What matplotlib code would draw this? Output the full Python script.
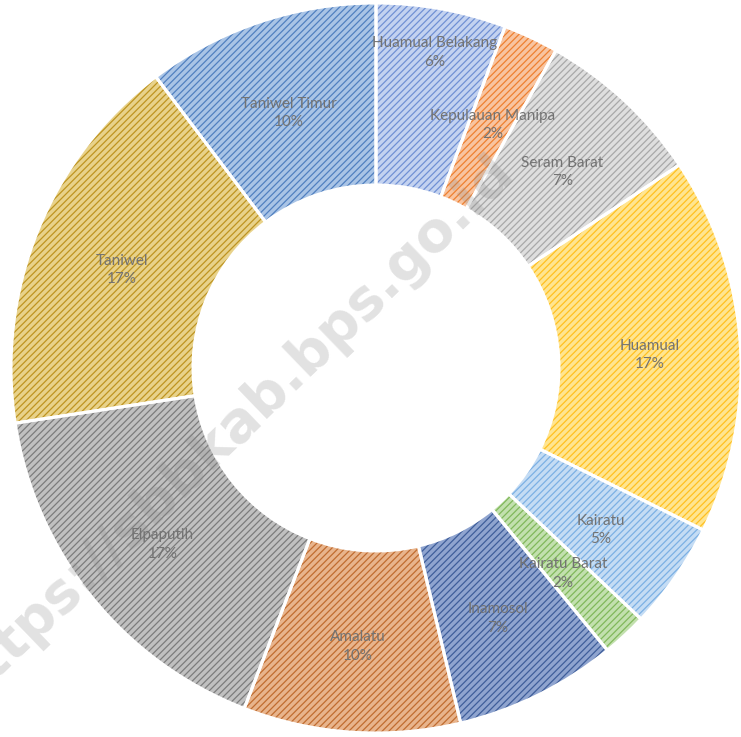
import matplotlib
matplotlib.use("Agg")
import matplotlib.pyplot as plt
import numpy as np

categories = ["Huamual Belakang", "Kepulauan Manipa", "Seram Barat", "Huamual",
              "Kairatu", "Kairatu Barat", "Inamosol", "Amalatu", "Elpaputih",
              "Taniwel", "Taniwel Timur"]
values = [5.75, 2.45, 7.4, 16.7, 4.75, 2.0, 7.2, 9.6, 16.7, 17.1, 10.3]
fg_colors = ["#7090d4", "#ee8030", "#a8a8a8", "#ffc020", "#7cb0e4", "#80b85a",
             "#3f5e9a", "#c06c30", "#7c7c7c", "#be9420", "#5080c0"]
bg_colors = ["#c3d2f0", "#f8c4a0", "#dedede", "#ffe590", "#c4dcf4", "#c2e0ae",
             "#8fa4cf", "#e8b48c", "#c0c0c0", "#e8d28a", "#a9c4e6"]
label_radius = [326, None, None, None, None, None, None, None, None, None, None]

plt.rcParams['hatch.linewidth'] = 0.9

W, H = 741, 737
fig = plt.figure(figsize=(W / 100, H / 100), dpi=100)
ax = fig.add_axes([0, 0, 1, 1])

cx, cy = 376, H - 368
R = 365
width = 182

wedges, _ = ax.pie(values, startangle=90, counterclock=False, center=(cx, cy),
                   radius=R, colors=bg_colors, frame=True,
                   wedgeprops=dict(width=width, linewidth=0))
for w, fc in zip(wedges, fg_colors):
    w.set_edgecolor(fc)
    w.set_hatch('/////')
    w.set_linewidth(0)

outl, _ = ax.pie(values, startangle=90, counterclock=False, center=(cx, cy),
                 radius=R, frame=True,
                 wedgeprops=dict(width=width, linewidth=2.2, edgecolor='white',
                                 fill=False))
ax.set_xlim(0, W)
ax.set_ylim(0, H)
ax.set_aspect('equal')
ax.axis('off')

# watermark
ax.text(230, H - 430, "https://sbbkab.bps.go.id", fontsize=40, fontweight='bold',
        color='#8a8a8a', alpha=0.25, rotation=44.0, ha='center', va='center',
        rotation_mode='anchor', family='DejaVu Sans', zorder=5, clip_on=True)

total = sum(values)
rmid = R - width / 2
for w, cat, v, lr in zip(wedges, categories, values, label_radius):
    ang = np.deg2rad((w.theta1 + w.theta2) / 2)
    r = rmid if lr is None else lr
    x = cx + r * np.cos(ang)
    y = cy + r * np.sin(ang) - 5
    ax.text(x, y, f"{cat}\n{v / total * 100:.0f}%", ha='center', va='center',
            fontsize=11, color='#737373', family='Lato', linespacing=1.4,
            zorder=6)

fig.savefig("out.png", dpi=100)
